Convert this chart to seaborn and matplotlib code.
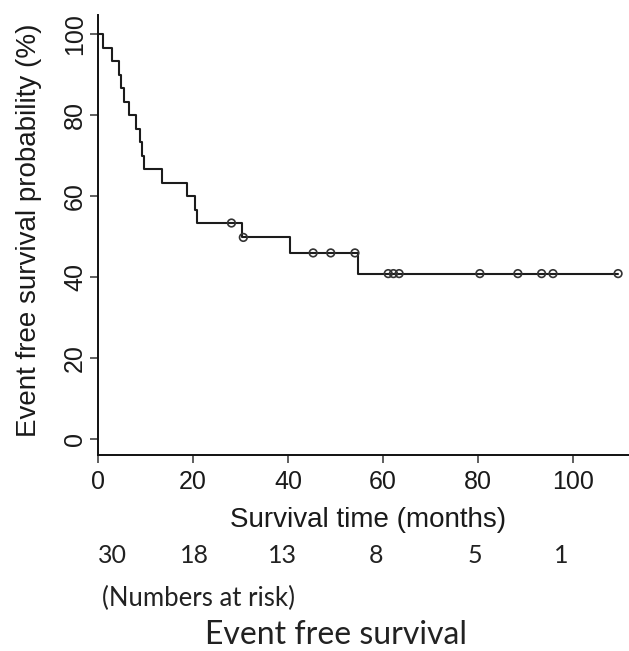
import matplotlib
matplotlib.use("Agg")
import matplotlib.pyplot as plt
import pandas as pd
import seaborn as sns

# Follow-up (months): times of events and of censored observations
event_times = [1.1, 3.0, 4.5, 4.8, 5.5, 6.5, 8.0, 8.8, 9.2, 9.7, 13.5, 18.7,
               20.4, 20.8, 30.4, 40.5, 54.8]
censor_times = [28.1, 30.6, 45.3, 49.0, 54.1, 61.1, 62.2, 63.4, 80.4, 88.4,
                93.4, 95.8, 109.5]

x_ticks = [0, 20, 40, 60, 80, 100]
y_ticks = [0, 20, 40, 60, 80, 100]
risk_times = [0, 20, 40, 60, 80, 100]
at_risk = [30, 18, 13, 8, 5, 1]

x_label = "Survival time (months)"
y_label = "Event free survival probability (%)"
risk_caption = "(Numbers at risk)"
title = "Event free survival"

# ---- Kaplan-Meier estimate ----
df = pd.DataFrame({
    "time": event_times + censor_times,
    "event": [1] * len(event_times) + [0] * len(censor_times),
}).sort_values("time", kind="stable").reset_index(drop=True)

n_risk = len(df)
surv = 100.0
steps = [(0.0, surv)]
censored = []
for t, e in zip(df["time"], df["event"]):
    if e == 1:
        surv *= (n_risk - 1) / n_risk
        steps.append((t, surv))
    else:
        censored.append((t, surv))
    n_risk -= 1
steps.append((df["time"].max(), surv))
steps = pd.DataFrame(steps, columns=["time", "surv"])
censored = pd.DataFrame(censored, columns=["time", "surv"])

# ---- figure ----
sns.set_style("ticks")
plt.rcParams["font.family"] = ["Liberation Sans", "DejaVu Sans"]
plt.rcParams["axes.linewidth"] = 1.4

W, H = 629, 651
fig = plt.figure(figsize=(W / 100, H / 100), dpi=100)
ax = fig.add_axes([98 / W, 1 - 455 / H, 531 / W, 440 / H])

line_col = "#1c1c1c"
sns.lineplot(data=steps, x="time", y="surv", ax=ax, drawstyle="steps-post",
             estimator=None, sort=False, color=line_col, linewidth=1.5)
sns.scatterplot(data=censored, x="time", y="surv", ax=ax, marker="o", s=30,
                facecolor="none", edgecolor="#333333", linewidth=1.2, zorder=3)

ax.set_xlim(0, 111.8)
ax.set_ylim(-3.95, 104.7)
ax.set_xticks(x_ticks)
ax.set_yticks(y_ticks)
sns.despine(ax=ax)
for s in ("left", "bottom"):
    ax.spines[s].set_color("#111111")

ax.tick_params(axis="both", length=5.8, width=1.1, color="#333333",
               labelsize=18, labelcolor="#1a1a1a")
ax.tick_params(axis="x", pad=5)
ax.tick_params(axis="y", labelrotation=90, pad=2)
for lab in ax.get_yticklabels():
    lab.set_va("center")

ax.set_xlabel(x_label, fontsize=20, color="#1a1a1a")
ax.xaxis.label.set_va("baseline")
ax.xaxis.set_label_coords((368 - 98) / 531, (455 - 527) / 440)
ax.set_ylabel(y_label, fontsize=20, color="#1a1a1a")
ax.yaxis.set_label_coords((42 - 98) / 531, (455 - 230) / 440)

# Numbers at risk under the time axis
risk_offset = [3.0, 0.4, -1.1, -1.5, -0.7, -2.5]
side_font = ["Lato", "DejaVu Sans"]
for t, off, n in zip(risk_times, risk_offset, at_risk):
    ax.text(t + off, (455 - 563) / 440, str(n), transform=ax.get_xaxis_transform(),
            ha="center", va="baseline", fontsize=18, family=side_font,
            color="#222222")
fig.text(102 / W, 1 - 606 / H, risk_caption, ha="left", va="baseline",
         fontsize=18.5, family=side_font, color="#222222")
fig.text(336 / W, 1 - 650 / H, title, ha="center", va="bottom",
         fontsize=23, family=side_font, color="#222222")

fig.savefig("out.png", dpi=100)
